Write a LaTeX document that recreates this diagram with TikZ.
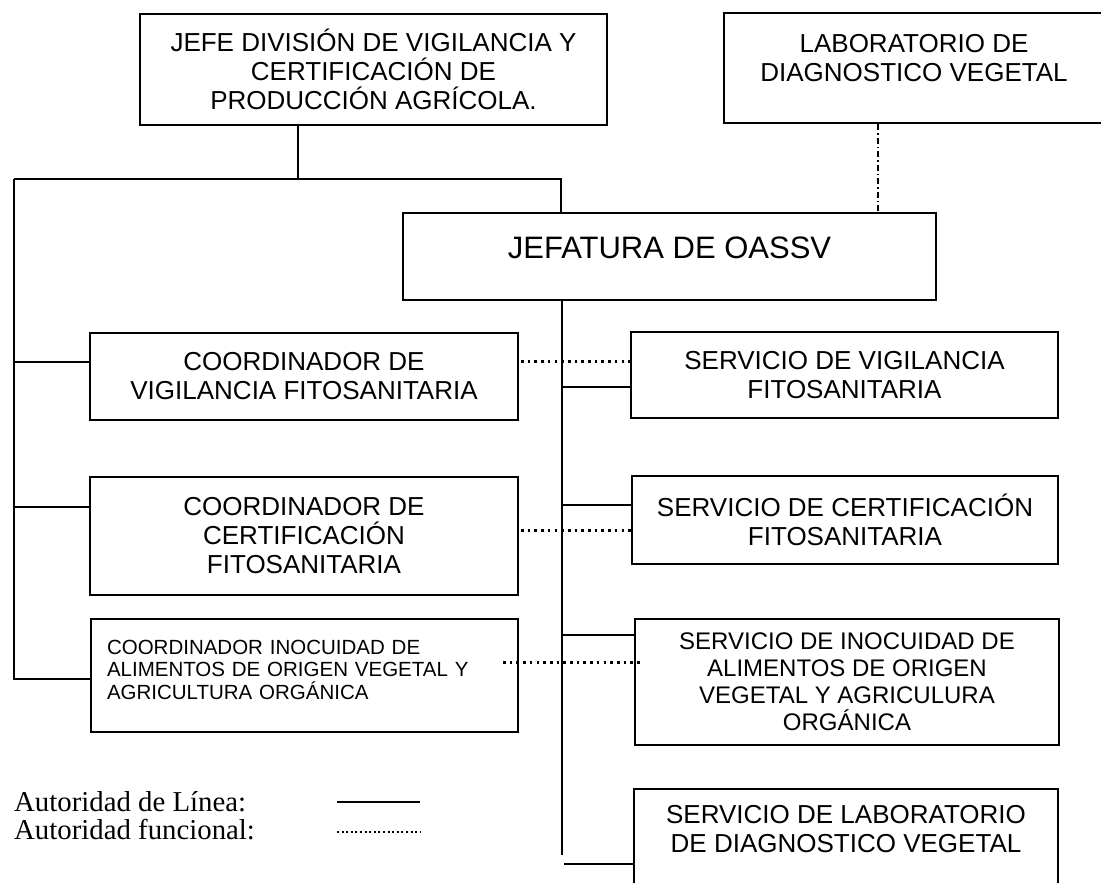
\documentclass[tikz,border=0pt]{standalone}
\usepackage{fontspec}
\setmainfont{Liberation Serif}
\newfontfamily\sansf{Liberation Sans}
\begin{document}
\begin{tikzpicture}[x=1pt,y=-1pt,
  box/.style={draw, line width=2.8pt, rectangle, inner sep=0pt, align=center,
    font=\sansf\fontsize{26}{29}\selectfont},
  conn/.style={line width=2.7pt},
  func/.style={line width=3pt, dash pattern=on 2.6pt off 4.1pt},
  labdash/.style={line width=1.6pt, dash pattern=on 6pt off 3pt on 1.5pt off 3pt},
  legend/.style={font=\fontsize{28.8}{31}\selectfont, anchor=base west, inner sep=0pt}]
\useasboundingbox (0,0) rectangle (1101,883);
\clip (0,0) rectangle (1101,883);
\fill[white] (0,0) rectangle (1101,883);

% boxes
\node[box, minimum width=467pt, minimum height=111pt] (jefe) at (373.5,69.5)
  {JEFE DIVISIÓN DE VIGILANCIA Y\\CERTIFICACIÓN DE\\PRODUCCIÓN AGRÍCOLA.};
\node[box, minimum width=380pt, minimum height=110pt, text depth=21pt] (lab) at (914,68)
  {LABORATORIO DE\\DIAGNOSTICO VEGETAL};
\node[box, minimum width=533pt, minimum height=87pt, text depth=17pt,
  font=\sansf\fontsize{31}{34}\selectfont] (jefatura) at (669.5,256.5)
  {JEFATURA DE OASSV};
\node[box, minimum width=428pt, minimum height=87pt] (coordvig) at (304,376.5)
  {COORDINADOR DE\\VIGILANCIA FITOSANITARIA};
\node[box, minimum width=428pt, minimum height=118pt] (coordcert) at (304,536)
  {COORDINADOR DE\\CERTIFICACIÓN\\FITOSANITARIA};
\node[box, minimum width=427pt, minimum height=113pt, text width=395pt, align=left,
  inner xsep=16pt, text depth=57pt, font=\sansf\fontsize{20.5}{22.5}\selectfont]
  (coordinoc) at (304.5,675.5)
  {COORDINADOR INOCUIDAD DE\\ALIMENTOS DE ORIGEN VEGETAL Y\\AGRICULTURA ORGÁNICA};
\node[box, minimum width=427pt, minimum height=86pt] (servvig) at (844.5,375)
  {SERVICIO DE VIGILANCIA\\FITOSANITARIA};
\node[box, minimum width=426pt, minimum height=88pt] (servcert) at (845,520)
  {SERVICIO DE CERTIFICACIÓN\\FITOSANITARIA};
\node[box, minimum width=424pt, minimum height=126pt,
  font=\sansf\fontsize{24}{27}\selectfont] (servinoc) at (847,682)
  {SERVICIO DE INOCUIDAD DE\\ALIMENTOS DE ORIGEN\\VEGETAL Y AGRICULURA\\ORGÁNICA};
\node[box, minimum width=424pt, minimum height=111pt, text depth=31pt] (servlab) at (846,844.5)
  {SERVICIO DE LABORATORIO\\DE DIAGNOSTICO VEGETAL};

% line authority
\coordinate (j0) at (298,179);
\coordinate (lt) at (14,179);
\coordinate (rt) at (561,179);
\coordinate (lb) at (14,679);
\draw[conn] (jefe.south -| j0) -- (j0);
\draw[conn] (lt) -- (rt) -- (rt |- jefatura.north);
\draw[conn] (lt) -- (lb) -- (lb -| coordinoc.west);
\coordinate (cv) at (14,362);
\coordinate (cc) at (14,507);
\draw[conn] (cv) -- (cv -| coordvig.west);
\draw[conn] (cc) -- (cc -| coordcert.west);

\coordinate (mvb) at (562,855);
\draw[conn] (jefatura.south -| mvb) -- (mvb);
\coordinate (m1) at (562,387);
\coordinate (m2) at (562,505);
\coordinate (m3) at (562,635);
\draw[conn] (m1) -- (m1 -| servvig.west);
\draw[conn] (m2) -- (m2 -| servcert.west);
\draw[conn] (m3) -- (m3 -| servinoc.west);
\coordinate (m4) at (564,864);
\draw[line width=2pt] (m4) -- (m4 -| servlab.west);

% functional authority
\coordinate (f1) at (521,361);
\coordinate (f2) at (521,530);
\coordinate (f3a) at (503,662);
\coordinate (f3b) at (640,662);
\draw[func] (f1) -- (f1 -| servvig.west);
\draw[func] (f2) -- (f2 -| servcert.west);
\draw[func] (f3a) -- (f3b);
\coordinate (ld) at (878,0);
\draw[labdash] (lab.south -| ld) -- (jefatura.north -| ld);

% legend
\node[legend] (leg1) at (14,811) {Autoridad de Línea:};
\node[legend] (leg2) at (14,839) {Autoridad funcional:};
\coordinate (ls1) at (337,802);
\coordinate (ls2) at (420,802);
\coordinate (lf1) at (337,832);
\coordinate (lf2) at (420,832);
\draw[conn] (ls1) -- (ls2);
\draw[line width=2.6pt, dash pattern=on 2pt off 2.6pt] (lf1) -- (lf2);
\end{tikzpicture}
\end{document}
